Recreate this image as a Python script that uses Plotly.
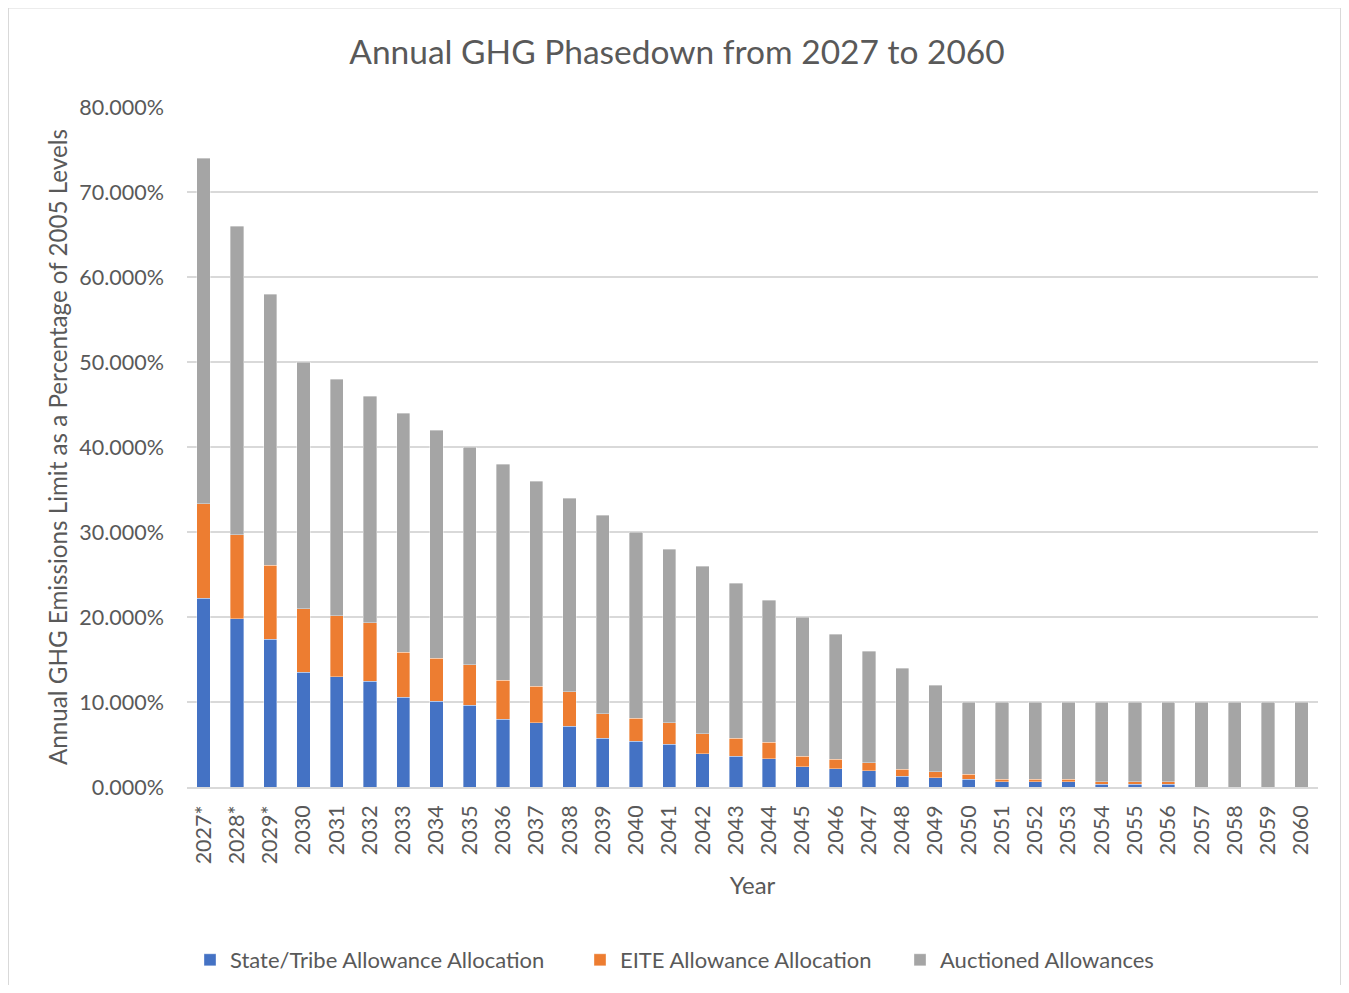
import plotly.graph_objects as go

years = ["2027*", "2028*", "2029*"] + [str(y) for y in range(2030, 2061)]
totals = [74, 66, 58, 50, 48, 46, 44, 42, 40, 38, 36, 34, 32, 30, 28, 26, 24, 22,
          20, 18, 16, 14, 12, 10, 10, 10, 10, 10, 10, 10, 10, 10, 10, 10]
state_tribe = [22.2, 19.8, 17.4, 13.5, 12.96, 12.42, 10.56, 10.08, 9.6, 7.98, 7.56, 7.14,
               5.76, 5.4, 5.04, 3.9, 3.6, 3.3, 2.4, 2.16, 1.92, 1.26, 1.08, 0.9,
               0.6, 0.6, 0.6, 0.3, 0.3, 0.3, 0, 0, 0, 0]
eite = [11.1, 9.9, 8.7, 7.5, 7.2, 6.9, 5.28, 5.04, 4.8, 4.56, 4.32, 4.08,
        2.88, 2.7, 2.52, 2.34, 2.16, 1.98, 1.2, 1.08, 0.96, 0.84, 0.72, 0.6,
        0.3, 0.3, 0.3, 0.3, 0.3, 0.3, 0, 0, 0, 0]
auctioned = [round(t - s - e, 4) for t, s, e in zip(totals, state_tribe, eite)]

FONT = "Lato"
GRAY_TXT = "#595959"

W, H = 1333, 977
OFF = 8
PL, PR, PT, PB = 187 - OFF, 1318 - OFF, 107 - OFF, 787 - OFF
PW, PH = PR - PL, PB - PT

def px_x(page_x):
    return (page_x - OFF - PL) / PW

def px_y(page_y):
    return (PB - (page_y - OFF)) / PH

series = [
    ("State/Tribe Allowance Allocation", state_tribe, "#4472C4", "legend", 228),
    ("EITE Allowance Allocation", eite, "#ED7D31", "legend2", 618),
    ("Auctioned Allowances", auctioned, "#A5A5A5", "legend3", 938),
]

fig = go.Figure()
for name, vals, color, leg, _ in series:
    fig.add_trace(go.Bar(
        x=years, y=vals, name=name, legend=leg,
        marker=dict(color=color, line=dict(color="rgba(255,255,255,0.6)", width=0.6)),
    ))

legend_common = dict(orientation="h", xanchor="left", yanchor="middle",
                     y=px_y(960), font=dict(size=22, color=GRAY_TXT, family=FONT),
                     bgcolor="rgba(0,0,0,0)", borderwidth=0, itemwidth=30)
legends = {}
for name, vals, color, leg, text_x in series:
    legends[leg] = dict(legend_common, x=px_x(text_x - 38))

fig.update_layout(
    barmode="stack",
    bargap=0.6,
    width=W, height=H,
    paper_bgcolor="white", plot_bgcolor="white",
    margin=dict(l=PL, r=W - PR, t=PT, b=H - PB, autoexpand=False),
    font=dict(family=FONT, color=GRAY_TXT),
    title=dict(text="Annual GHG Phasedown from 2027 to 2060",
               x=(677 - OFF) / W, xanchor="center", y=1 - (52 - OFF) / H, yanchor="middle",
               font=dict(size=33.5, color=GRAY_TXT, family=FONT)),
    showlegend=True,
    **legends,
)
fig.update_yaxes(
    range=[0, 80], dtick=10, tickformat=".3f", ticksuffix="%",
    showgrid=True, gridcolor="#D9D9D9", gridwidth=1.5,
    zeroline=False, showline=False, automargin=False,
    tickfont=dict(size=21.5, color=GRAY_TXT),
    ticks="", ticklen=0, ticklabelstandoff=22,
    title=dict(text="Annual GHG Emissions Limit as a Percentage of 2005 Levels",
               font=dict(size=24.2, color=GRAY_TXT), standoff=4),
)
fig.update_xaxes(
    type="category", tickangle=-90, automargin=False,
    showline=True, linecolor="#D9D9D9", linewidth=1.5,
    tickfont=dict(size=21.5, color=GRAY_TXT),
    ticks="", ticklabelstandoff=8,
    title=dict(text="Year", font=dict(size=24, color=GRAY_TXT), standoff=14),
)
fig.add_shape(type="rect", xref="paper", yref="paper",
              x0=px_x(8.5), x1=px_x(1340.5),
              y0=px_y(1000), y1=px_y(8),
              line=dict(color="#D9D9D9", width=1), fillcolor="rgba(0,0,0,0)", layer="below")

fig.write_html("out.html")
